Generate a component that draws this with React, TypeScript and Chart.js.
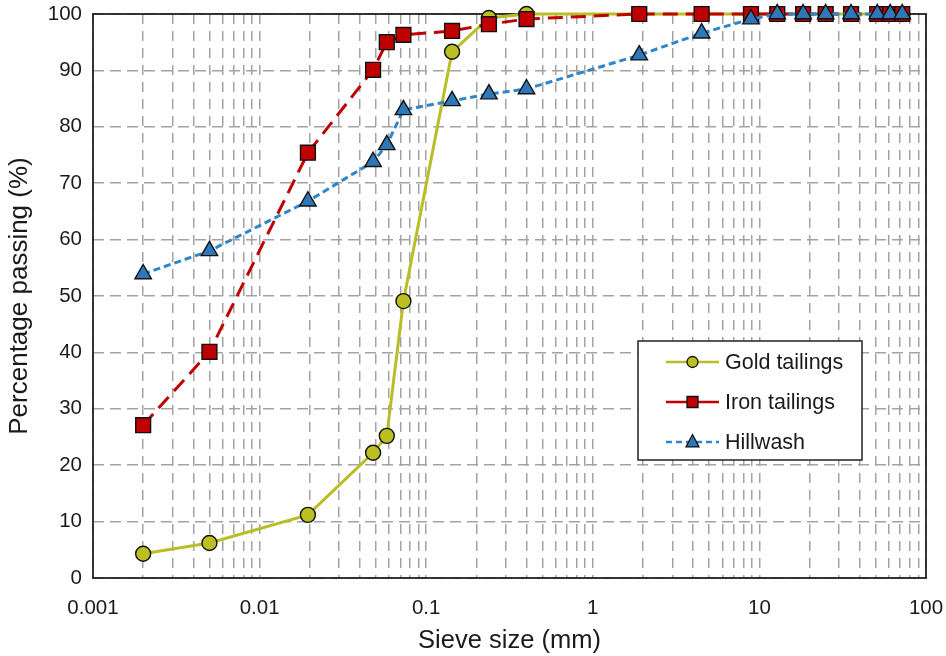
import React, { useEffect, useRef } from "react";
import { Chart, registerables } from "chart.js";

Chart.register(...registerables);

const sieveSizes = [0.002, 0.005, 0.0195, 0.048, 0.058, 0.073, 0.143, 0.238, 0.4, 1.9, 4.5, 8.9, 12.8, 18.3, 25, 35.5, 51, 61, 72];
const goldPassing = [4.3, 6.2, 11.2, 22.2, 25.2, 49.1, 93.3, 99.3, 100, 100, 100, 100, 100, 100, 100, 100, 100, 100, 100];
const ironPassing = [27.1, 40.1, 75.4, 90.1, 95.0, 96.3, 97.0, 98.2, 99.1, 100, 100, 100, 100, 100, 100, 100, 100, 100, 100];
const hillwashPassing = [53.9, 58.0, 66.8, 73.8, 76.8, 83.0, 84.6, 85.8, 86.7, 92.7, 96.6, 99.1, 100, 100, 100, 100, 100, 100, 100];
const seriesNames = ["Gold tailings", "Iron tailings", "Hillwash"];
const xTickLabels = ["0.001", "0.01", "0.1", "1", "10", "100"];

const FONT = "'Liberation Sans', Arial, sans-serif";
const GOLD_LINE = "#b9bd26";
const GOLD_FILL = "#bcbf21";
const RED_LINE = "#c00000";
const RED_FILL = "#c00000";
const BLUE_LINE = "#2e86c8";
const BLUE_FILL = "#2e78b8";

const toPts = (ys: number[]) => ys.map((y, i) => ({ x: sieveSizes[i], y }));

function drawMarker(ctx: CanvasRenderingContext2D, style: string, x: number, y: number, r: number, fill: string) {
  ctx.save();
  ctx.fillStyle = fill;
  ctx.strokeStyle = "#111";
  ctx.lineWidth = 1.3;
  ctx.setLineDash([]);
  ctx.beginPath();
  if (style === "circle") {
    ctx.arc(x, y, r, 0, Math.PI * 2);
  } else if (style === "rect") {
    ctx.rect(x - r, y - r, r * 2, r * 2);
  } else {
    ctx.moveTo(x, y - r * 1.15);
    ctx.lineTo(x + r, y + r * 0.75);
    ctx.lineTo(x - r, y + r * 0.75);
    ctx.closePath();
  }
  ctx.fill();
  ctx.stroke();
  ctx.restore();
}

const framePlugin = {
  id: "frame",
  beforeDatasetsDraw(chart: any) {
    const { ctx, chartArea } = chart;
    ctx.save();
    ctx.strokeStyle = "#222";
    ctx.lineWidth = 1.8;
    ctx.setLineDash([]);
    ctx.strokeRect(chartArea.left, chartArea.top, chartArea.right - chartArea.left, chartArea.bottom - chartArea.top);
    ctx.restore();
  },
};

const legendPlugin = {
  id: "customLegend",
  afterDraw(chart: any) {
    const { ctx, chartArea } = chart;
    const left = chartArea.right - 288;
    const right = left + 224;
    const top = chartArea.top + 327;
    const bottom = top + 119;
    ctx.save();
    ctx.fillStyle = "#fff";
    ctx.fillRect(left, top, right - left, bottom - top);
    ctx.strokeStyle = "#222";
    ctx.lineWidth = 1.5;
    ctx.setLineDash([]);
    ctx.strokeRect(left, top, right - left, bottom - top);
    const items = [
      { name: seriesNames[0], color: GOLD_LINE, fill: GOLD_FILL, dash: [] as number[], marker: "circle", r: 5.5 },
      { name: seriesNames[1], color: RED_LINE, fill: RED_FILL, dash: [] as number[], marker: "rect", r: 5.5 },
      { name: seriesNames[2], color: BLUE_LINE, fill: BLUE_FILL, dash: [6, 4], marker: "triangle", r: 6.5 },
    ];
    items.forEach((it, i) => {
      const y = top + 21 + i * 40;
      ctx.strokeStyle = it.color;
      ctx.lineWidth = 2.5;
      ctx.setLineDash(it.dash);
      ctx.beginPath();
      ctx.moveTo(left + 28, y);
      ctx.lineTo(left + 81, y);
      ctx.stroke();
      drawMarker(ctx, it.marker, left + 54.5, y, it.r, it.fill);
      ctx.fillStyle = "#1a1a1a";
      ctx.font = `21.5px ${FONT}`;
      ctx.textBaseline = "middle";
      ctx.textAlign = "left";
      ctx.fillText(it.name, left + 87, y + 1);
    });
    ctx.restore();
  },
};

export default function App() {
  const ref = useRef<HTMLCanvasElement | null>(null);
  useEffect(() => {
    if (!ref.current) return;
    const gridColor = "#a3a3a3";
    const chart = new Chart(ref.current, {
      type: "line",
      data: {
        datasets: [
          {
            label: seriesNames[0],
            data: toPts(goldPassing),
            borderColor: GOLD_LINE,
            backgroundColor: GOLD_FILL,
            borderWidth: 3,
            pointStyle: "circle",
            pointRadius: 7.5,
            pointBorderColor: "#111",
            pointBorderWidth: 1.4,
            pointBackgroundColor: GOLD_FILL,
            order: 3,
            clip: false,
          },
          {
            label: seriesNames[1],
            data: toPts(ironPassing),
            borderColor: RED_LINE,
            backgroundColor: RED_FILL,
            borderWidth: 3,
            borderDash: [15, 8],
            pointStyle: "rect",
            pointRadius: 10.5,
            pointBorderColor: "#111",
            pointBorderWidth: 1.4,
            pointBackgroundColor: RED_FILL,
            order: 2,
            clip: false,
          },
          {
            label: seriesNames[2],
            data: toPts(hillwashPassing),
            borderColor: BLUE_LINE,
            backgroundColor: BLUE_FILL,
            borderWidth: 3,
            borderDash: [7, 4],
            pointStyle: "triangle",
            pointRadius: 9.5,
            pointBorderColor: "#111",
            pointBorderWidth: 1.4,
            pointBackgroundColor: BLUE_FILL,
            order: 1,
            clip: false,
          },
        ],
      },
      options: {
        responsive: false,
        animation: false,
        devicePixelRatio: 1,
        layout: { padding: { top: 14, right: 20, left: 0, bottom: 0 } },
        plugins: { legend: { display: false }, tooltip: { enabled: false } },
        elements: { line: { tension: 0 } },
        scales: {
          x: {
            type: "logarithmic",
            min: 0.001,
            max: 100,
            afterBuildTicks: (scale: any) => {
              const t: { value: number }[] = [];
              for (let e = -3; e <= 2; e++) {
                for (let m = 1; m <= 9; m++) {
                  const v = m * Math.pow(10, e);
                  if (v <= 100.0001) t.push({ value: v });
                  if (e === 2) break;
                }
              }
              scale.ticks = t;
            },
            afterFit: (scale: any) => {
              scale.height = 78;
              scale.paddingLeft = 0;
              scale.paddingRight = 0;
            },
            ticks: {
              autoSkip: false,
              maxRotation: 0,
              padding: 18,
              color: "#1a1a1a",
              font: { family: FONT, size: 20.5 },
              callback: (value: any) => {
                const v = Number(value);
                const lg = Math.log10(v);
                if (Math.abs(lg - Math.round(lg)) < 1e-6) {
                  return xTickLabels[Math.round(lg) + 3];
                }
                return "";
              },
            },
            grid: { color: gridColor, lineWidth: 1.5, drawTicks: false },
            border: { display: false, dash: [10, 7] },
            title: {
              display: true,
              text: "Sieve size (mm)",
              color: "#1a1a1a",
              font: { family: FONT, size: 25.5 },
              padding: { top: 0, bottom: 0 },
            },
          },
          y: {
            min: 0,
            max: 100,
            afterFit: (scale: any) => {
              scale.width = 93;
              scale.paddingTop = 0;
              scale.paddingBottom = 0;
            },
            ticks: {
              stepSize: 10,
              padding: 11,
              color: "#1a1a1a",
              font: { family: FONT, size: 20.5 },
            },
            grid: { color: gridColor, lineWidth: 1.5, drawTicks: false },
            border: { display: false, dash: [11, 6] },
            title: {
              display: true,
              text: "Percentage passing (%)",
              color: "#1a1a1a",
              font: { family: FONT, size: 26 },
              padding: { top: 4, bottom: 0 },
            },
          },
        },
      },
      plugins: [framePlugin, legendPlugin],
    } as any);
    return () => chart.destroy();
  }, []);
  return (
    <div style={{ position: "absolute", left: 0, top: 0, width: 946, height: 656, background: "#fff" }}>
      <canvas ref={ref} width={946} height={656} style={{ display: "block" }} />
    </div>
  );
}
